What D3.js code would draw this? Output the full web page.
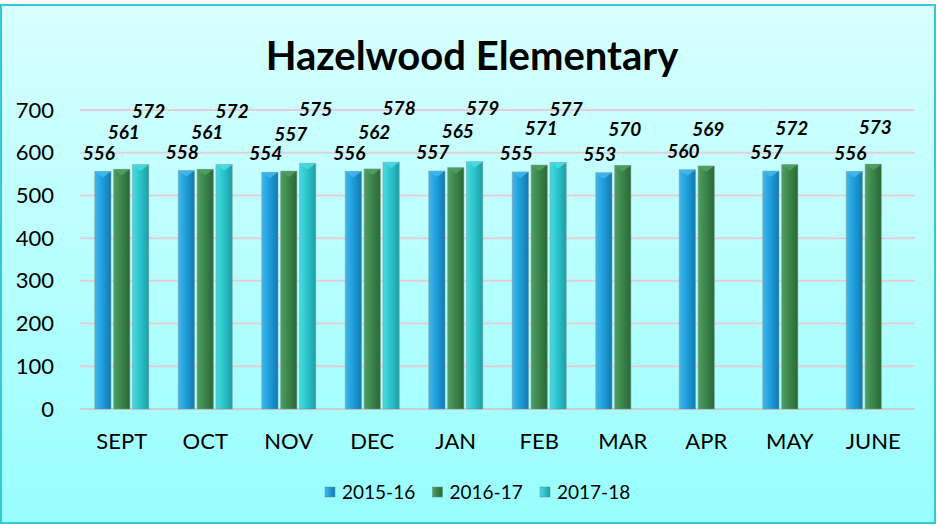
<!DOCTYPE html>
<html>
<head>
<meta charset="utf-8">
<script src="https://cdn.jsdelivr.net/npm/d3@7"></script>
<style>
  body { margin: 0; background: #ffffff; }
  svg { display: block; font-family: Lato, "Open Sans", sans-serif; }
</style>
</head>
<body>
<svg id="chart-svg"></svg>
<script>
const width = 937;
const height = 525;

// chart data
const months = ["SEPT", "OCT", "NOV", "DEC", "JAN", "FEB", "MAR", "APR", "MAY", "JUNE"];
const seriesNames = ["2015-16", "2016-17", "2017-18"];
const values2015 = [556, 558, 554, 556, 557, 555, 553, 560, 557, 556];
const values2016 = [561, 561, 557, 562, 565, 571, 570, 569, 572, 573];
const values2017 = [572, 572, 575, 578, 579, 577, null, null, null, null];
const yTicks = [0, 100, 200, 300, 400, 500, 600, 700];

const seriesValues = [values2015, values2016, values2017];

const svg = d3.select("#chart-svg")
    .attr("width", width)
    .attr("height", height);

const defs = svg.append("defs");

// background gradient
const bg = defs.append("linearGradient")
    .attr("id", "bg-grad")
    .attr("x1", 0).attr("y1", 0).attr("x2", 0).attr("y2", 1);
bg.append("stop").attr("offset", "0%").attr("stop-color", "#d8ffff");
bg.append("stop").attr("offset", "100%").attr("stop-color", "#98fefe");

// bar gradients (left light -> right dark)
const barColours = [
    ["#44b6ea", "#1e9fdc", "#1479ae"],
    ["#529e62", "#3b864b", "#2a6838"],
    ["#48dbe0", "#2cc5cc", "#1d9da5"]
];
barColours.forEach((c, i) => {
    const g = defs.append("linearGradient")
        .attr("id", "bar-grad-" + i)
        .attr("x1", 0).attr("y1", 0).attr("x2", 1).attr("y2", 0);
    g.append("stop").attr("offset", "0%").attr("stop-color", c[0]);
    g.append("stop").attr("offset", "45%").attr("stop-color", c[1]);
    g.append("stop").attr("offset", "100%").attr("stop-color", c[2]);
});

svg.append("rect")
    .attr("x", 1).attr("y", 5)
    .attr("width", width - 3).attr("height", height - 7)
    .attr("fill", "url(#bg-grad)")
    .attr("stroke", "#35c9d6")
    .attr("stroke-width", 2);

const margin = {left: 80, right: 22, top: 110, bottom: 116};
const plotW = width - margin.left - margin.right;
const plotH = height - margin.top - margin.bottom;

const x = d3.scaleBand()
    .domain(months)
    .range([margin.left, margin.left + plotW]);

const xSeries = d3.scaleBand()
    .domain(seriesNames)
    .range([0, 54])
    .paddingInner(0.14);

const y = d3.scaleLinear()
    .domain([0, 700])
    .range([margin.top + plotH, margin.top]);

// gridlines
svg.append("g")
    .selectAll("line")
    .data(yTicks)
    .enter()
    .append("line")
    .attr("x1", margin.left)
    .attr("x2", margin.left + plotW)
    .attr("y1", d => y(d))
    .attr("y2", d => y(d))
    .attr("stroke", d => d === 0 ? "#c9cfcf" : "#e3d0d6")
    .attr("stroke-width", 2);

// y axis labels
const yAxis = d3.axisLeft(y)
    .tickValues(yTicks)
    .tickSize(0)
    .tickPadding(0);
svg.append("g")
    .attr("transform", "translate(" + (margin.left - 26) + ",0)")
    .call(yAxis)
    .call(g => g.select(".domain").remove())
    .selectAll("text")
    .attr("font-family", "Lato, sans-serif")
    .attr("font-size", 22)
    .attr("fill", "#000");

// x axis labels
const xAxis = d3.axisBottom(x).tickSize(0).tickPadding(0);
svg.append("g")
    .attr("transform", "translate(0," + (y(0) + 24) + ")")
    .call(xAxis)
    .call(g => g.select(".domain").remove())
    .selectAll("text")
    .attr("font-family", "Lato, sans-serif")
    .attr("font-size", 22)
    .attr("fill", "#000");

// bars
const groupOffset = x.bandwidth() / 2 - 27;
// label nudges per series, stepped upwards so they don't collide
const labelNudge = [[-4, -12], [2, -30], [8, -47]];

seriesValues.forEach((vals, si) => {
    const data = months.map((m, i) => ({month: m, value: vals[i]}))
        .filter(d => d.value !== null);

    const g = svg.append("g");
    const bx = d => x(d.month) + groupOffset + xSeries(seriesNames[si]);

    g.selectAll("rect")
        .data(data)
        .enter()
        .append("rect")
        .attr("x", bx)
        .attr("y", d => y(d.value))
        .attr("width", xSeries.bandwidth())
        .attr("height", d => y(0) - y(d.value))
        .attr("fill", "url(#bar-grad-" + si + ")")
        .attr("stroke", "#7a9a9a")
        .attr("stroke-opacity", 0.5)
        .attr("stroke-width", 1);

    // top bevel
    g.selectAll("path.bevel")
        .data(data)
        .enter()
        .append("path")
        .attr("class", "bevel")
        .attr("d", d => {
            const x0 = bx(d), w = xSeries.bandwidth(), t = y(d.value);
            return "M" + x0 + "," + t + "L" + (x0 + w) + "," + t +
                "L" + (x0 + w / 2) + "," + (t + 6) + "Z";
        })
        .attr("fill", barColours[si][0])
        .attr("opacity", 0.9);

    g.selectAll("text")
        .data(data)
        .enter()
        .append("text")
        .attr("x", d => bx(d) + xSeries.bandwidth() / 2 + labelNudge[si][0])
        .attr("y", d => y(d.value) + labelNudge[si][1])
        .attr("text-anchor", "middle")
        .attr("font-family", "Lato, sans-serif")
        .attr("font-size", 19)
        .attr("font-weight", "bold")
        .attr("font-style", "italic")
        .attr("fill", "#000")
        .text(d => d.value);
});

// title
svg.append("text")
    .attr("x", 472)
    .attr("y", 70)
    .attr("text-anchor", "middle")
    .attr("font-family", "Lato, sans-serif")
    .attr("font-size", 40)
    .attr("font-weight", "bold")
    .attr("fill", "#000")
    .text("Hazelwood Elementary");

// legend
const legend = svg.append("g")
    .attr("transform", "translate(325,492)");
const legendX = d3.scalePoint()
    .domain(seriesNames)
    .range([0, 215]);
const items = legend.selectAll("g")
    .data(seriesNames)
    .enter()
    .append("g")
    .attr("transform", d => "translate(" + legendX(d) + ",0)");
items.append("rect")
    .attr("x", 0).attr("y", -5)
    .attr("width", 10).attr("height", 10)
    .attr("fill", (d, i) => "url(#bar-grad-" + i + ")")
    .attr("stroke", "#6a8a8a")
    .attr("stroke-width", 0.5);
items.append("text")
    .attr("x", 17)
    .attr("y", 7)
    .attr("font-family", "Lato, sans-serif")
    .attr("font-size", 19)
    .attr("fill", "#000")
    .text(d => d);
</script>
</body>
</html>
